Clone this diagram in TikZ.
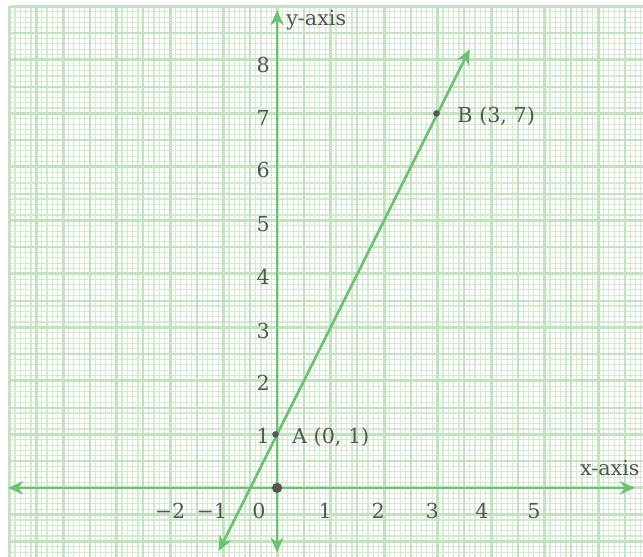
\documentclass[tikz,border=0pt]{standalone}
\usepackage{fontspec}
\setmainfont{DejaVu Serif}
\usetikzlibrary{arrows.meta}
\definecolor{gridfine}{HTML}{D3EAD0}
\definecolor{gridbold}{HTML}{C3E2BF}
\definecolor{plotgreen}{HTML}{6CC173}
\definecolor{inkgray}{HTML}{555555}
\begin{document}
\begin{tikzpicture}[x=1cm,y=1cm,font=\fontsize{11}{13}\selectfont,
  greenline/.style={draw=plotgreen,line width=1.4pt,{Stealth[length=8pt,width=7pt,inset=2.5pt]}-{Stealth[length=8pt,width=7pt,inset=2.5pt]}},
  lbl/.style={text=inkgray,inner sep=1pt},
  dot/.style={circle,fill=inkgray,inner sep=0pt,minimum size=#1}]
\useasboundingbox(-5.18,-1.29)rectangle(6.84,9.12);
% graph paper
\draw[gridfine,line width=.6pt,step=.1](-5,-1.29)grid(6.84,9);
\draw[gridbold,line width=1.2pt,step=.5](-5,-1.29)grid(6.84,9);
\draw[gridbold,line width=1.6pt,step=1](-5,-1.29)grid(6.84,9);
% axes
\coordinate(xl)at(-5.03,0);\coordinate(xr)at(6.69,0);
\coordinate(yb)at(0,-1.21);\coordinate(yt)at(0,8.93);
\draw[greenline](xl)--(xr);
\draw[greenline](yb)--(yt);
\node[lbl,anchor=west](ylab)at(.13,8.75){y-axis};
\node[lbl,anchor=west](xlab)at(5.62,.37){x-axis};
% tick labels
\foreach \n/\t/\x in {m2/−2/-2.0,m1/−1/-1.22,0/0/-.34,1/1/.9,2/2/1.89,3/3/2.9,4/4/3.83,5/5/4.8}
  \node[lbl](x\n)at(\x,-.43){\t};
\foreach \n/\y in {1/.97,2/1.96,3/2.93,4/3.94,5/4.93,6/5.94,7/6.92,8/7.91}
  \node[lbl](y\n)at(-.26,\y){\n};
% line through A and B
\coordinate(lo)at(-1.09,-1.18);\coordinate(hi)at(3.6,8.2);
\draw[greenline](lo)--(hi);
\node[dot=5.5pt](O)at(0,0){};
\node[dot=3.5pt](A)at(-.03,1){};
\node[dot=3.5pt](B)at(2.98,7){};
\node[lbl,anchor=west](Alab)at(.24,.95){A (0, 1)};
\node[lbl,anchor=west](Blab)at(3.33,6.95){B (3, 7)};
\end{tikzpicture}
\end{document}
